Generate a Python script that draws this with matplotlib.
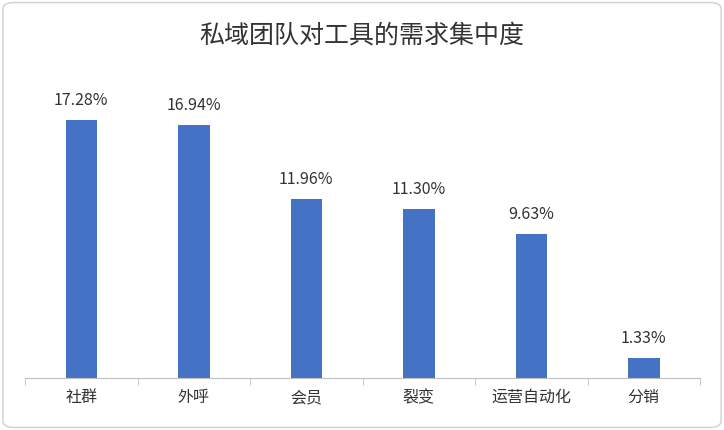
import matplotlib.pyplot as plt
import numpy as np
from matplotlib.patches import FancyBboxPatch

plt.rcParams['font.family'] = ['Noto Sans CJK SC', 'DejaVu Sans']

categories = ['社群', '外呼', '会员', '裂变', '运营自动化', '分销']
values = [17.28, 16.94, 11.96, 11.30, 9.63, 1.33]
labels = ['17.28%', '16.94%', '11.96%', '11.30%', '9.63%', '1.33%']

fig = plt.figure(figsize=(7.24, 4.30), dpi=100)
frame = FancyBboxPatch((0.004, 0.006), 0.992, 0.988,
                       boxstyle='round,pad=0,rounding_size=0.015',
                       transform=fig.transFigure, facecolor='white',
                       edgecolor='#d0d0d0', linewidth=1, zorder=-10)
fig.patches.append(frame)
ax = fig.add_axes([25 / 724, 52 / 430, 675 / 724, 318 / 430])
ax.patch.set_alpha(0)

x = np.arange(len(categories))
ax.bar(x, values, width=0.28, color='#4472C4')
for xi, v, lab in zip(x, values, labels):
    ax.text(xi, v + 0.75, lab, ha='center', va='bottom', fontsize=11.5, color='#333333')

ax.set_xlim(-0.5, len(categories) - 0.5)
ax.set_ylim(0, 21.3)
ax.set_yticks([])
ax.set_xticks(x)
ax.set_xticklabels(categories, fontsize=11.5, color='#333333')
ax.tick_params(axis='x', which='major', length=0, pad=8)
ax.set_xticks(np.arange(-0.5, len(categories), 1), minor=True)
ax.tick_params(axis='x', which='minor', length=5, color='#bfbfbf')
for s in ['top', 'right', 'left']:
    ax.spines[s].set_visible(False)
ax.spines['bottom'].set_color('#bfbfbf')

fig.text(0.5, 0.918, '私域团队对工具的需求集中度', ha='center', va='center',
         fontsize=18, color='#333333')

fig.savefig('out.png', dpi=100)
